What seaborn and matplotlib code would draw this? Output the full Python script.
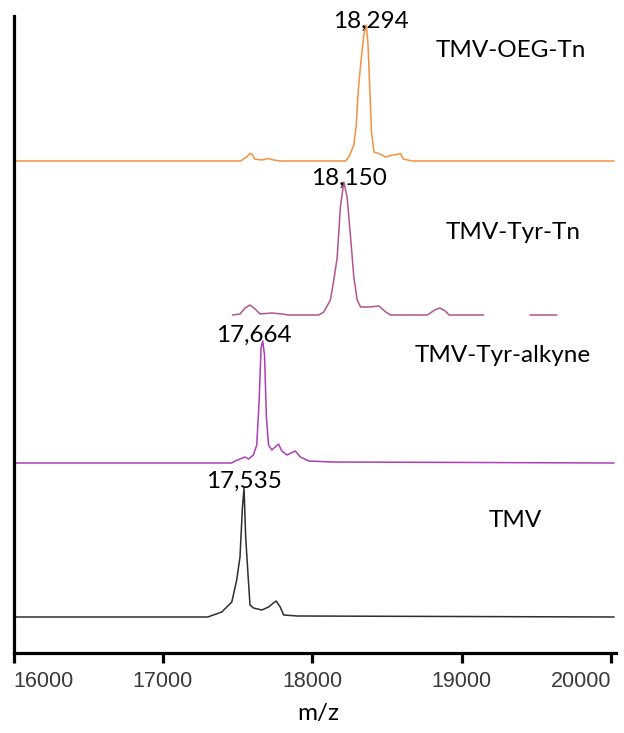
import numpy as np
import pandas as pd
import matplotlib
matplotlib.use("Agg")
import matplotlib.pyplot as plt
import seaborn as sns

# spectra: m/z and intensity above each trace's own baseline
samples = ["TMV", "TMV-Tyr-alkyne", "TMV-Tyr-Tn", "TMV-OEG-Tn"]
peak_labels = ["17,535", "17,664", "18,150", "18,294"]

tmv_mz = [16000, 17300, 17394, 17461, 17494, 17516, 17532, 17543, 17554, 17572,
          17583, 17606, 17662, 17707, 17740, 17758, 17785, 17808, 17900, 20020]
tmv_int = [0, 0, 5, 15, 37, 60, 109, 129, 80, 37,
           12, 9, 7, 10, 14, 16, 10, 2, 1, 0]

alk_mz = [16000, 17460, 17483, 17550, 17573, 17606, 17628, 17644, 17657, 17668,
          17680, 17693, 17707, 17729, 17774, 17796, 17830, 17886, 17920, 17976,
          18133, 20020]
alk_int = [0, 0, 2, 6, 4, 8, 18, 62, 115, 122,
           108, 45, 18, 13, 19, 12, 8, 12, 6, 2,
           1, 0]

tyr_mz = [17465, 17516, 17550, 17583, 17617, 17650, 17729, 17796, 17841, 18043,
          18077, 18121, 18144, 18166, 18188, 18211, 18233, 18256, 18278, 18300,
          18323, 18379, 18446, 18491, 18524, 18770, 18820, 18853, 18890, 18916,
          19147]
tyr_int = [0, 1, 7, 10, 6, 1, 2, 1, 0, 0,
           3, 15, 35, 57, 108, 133, 118, 78, 38, 15,
           8, 8, 9, 3, 0, 0, 5, 7, 4, 0,
           0]
tyr_tail_mz = [19457, 19637]
tyr_tail_int = [0, 0]

oeg_mz = [16000, 17520, 17539, 17561, 17583, 17599, 17613, 17662, 17707, 17741,
          17785, 18222, 18245, 18278, 18294, 18307, 18323, 18345, 18361, 18372,
          18383, 18396, 18413, 18446, 18491, 18536, 18569, 18591, 18608, 18670,
          20020]
oeg_int = [0, 0, 2, 4, 7.5, 6.5, 2, 1, 2.5, 1,
           0, 0, 4, 16, 36, 69, 96, 126, 136, 119,
           79, 29, 9, 7.5, 4, 6, 6.5, 7.5, 2, 0,
           0]

tick_values = [16000, 17000, 18000, 19000, 20000]

# vertical stacking of the traces (layout only)
offsets = {"TMV": 36, "TMV-Tyr-alkyne": 190, "TMV-Tyr-Tn": 338, "TMV-OEG-Tn": 492}
colors = {"TMV": "#2e2e2e", "TMV-Tyr-alkyne": "#ad3db8",
          "TMV-Tyr-Tn": "#b3558c", "TMV-OEG-Tn": "#f5903f"}

segments = [
    ("TMV", "tmv", tmv_mz, tmv_int),
    ("TMV-Tyr-alkyne", "alk", alk_mz, alk_int),
    ("TMV-Tyr-Tn", "tyr", tyr_mz, tyr_int),
    ("TMV-Tyr-Tn", "tyr2", tyr_tail_mz, tyr_tail_int),
    ("TMV-OEG-Tn", "oeg", oeg_mz, oeg_int),
]
rows = []
for name, seg, mz, inten in segments:
    for m, v in zip(mz, inten):
        rows.append({"sample": name, "seg": seg, "mz": m,
                     "signal": v + offsets[name]})
df = pd.DataFrame(rows)

sns.set_style("ticks")
plt.rcParams["font.family"] = ["Lato", "DejaVu Sans"]

fig = plt.figure(figsize=(6.24, 7.33), dpi=100)
ax = fig.add_axes([13.5 / 624, 80 / 733, 602.1 / 624, 637 / 733])

sns.lineplot(data=df, x="mz", y="signal", hue="sample", units="seg",
             estimator=None, sort=False, palette=colors, linewidth=1.1,
             legend=False, ax=ax)

ax.set_xlim(16000, 20030)
ax.set_ylim(0, 637)
ax.set_xticks(tick_values)
ax.set_xticklabels([str(t) for t in tick_values])
ax.set_yticks([])
ax.set_ylabel("")
for s in ["top", "right"]:
    ax.spines[s].set_visible(False)
for s in ["left", "bottom"]:
    ax.spines[s].set_linewidth(2.3)
    ax.spines[s].set_color("black")
ax.tick_params(axis="x", direction="out", length=7, width=2.3, color="black",
               pad=6, labelsize=15.5, labelcolor="#3a3a3a")
ticklabels = ax.get_xticklabels()
for lbl in ticklabels:
    lbl.set_fontfamily("Liberation Sans")
ticklabels[0].set_horizontalalignment("left")
ticklabels[-1].set_horizontalalignment("right")

ax.set_xlabel("m/z", fontsize=17.5, color="black")
ax.xaxis.set_label_coords((318 - 13.5) / 602.1, -50 / 637)

# peak values and sample names
label_pos = {
    "TMV": ((17541, 165), (19181, 126)),
    "TMV-Tyr-alkyne": ((17608, 311), (18686, 291)),
    "TMV-Tyr-Tn": ((18244, 468), (18894, 414)),
    "TMV-OEG-Tn": ((18392, 625), (18827, 596)),
}
for name, peak in zip(samples, peak_labels):
    (px, py), (nx, ny) = label_pos[name]
    ax.text(px, py, peak, ha="center", va="baseline", fontsize=17.5,
            color="black")
    ax.text(nx, ny, name, ha="left", va="baseline", fontsize=17.5,
            color="black")

fig.savefig("out.png", dpi=100)
